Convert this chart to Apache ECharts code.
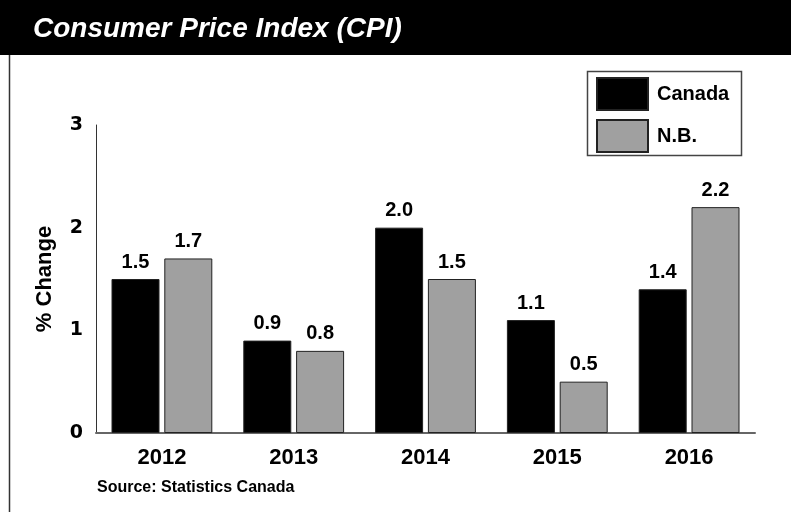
<!DOCTYPE html>
<html>
<head>
<meta charset="utf-8">
<script src="https://cdn.jsdelivr.net/npm/echarts@6/dist/echarts.min.js"></script>
<style>
  html, body { margin: 0; padding: 0; background: #fff; }
  #chart { width: 791px; height: 512px; }
</style>
</head>
<body>
<div id="chart"></div>
<script>
// data
var years = ['2012', '2013', '2014', '2015', '2016'];
var canada = [1.5, 0.9, 2.0, 1.1, 1.4];
var nb = [1.7, 0.8, 1.5, 0.5, 2.2];
var yTicks = [0, 1, 2, 3];

var narrow = '"Liberation Sans Narrow", "Arial Narrow", "Liberation Sans", sans-serif';

var chart = echarts.init(document.getElementById('chart'));

var labelStyle = {
  show: true,
  position: 'top',
  distance: 7,
  color: '#000',
  fontFamily: narrow,
  fontWeight: 'bold',
  fontSize: 20,
  formatter: function (p) { return p.value.toFixed(1); }
};

var option = {
  animation: false,
  backgroundColor: '#fff',
  graphic: [
    // title bar
    { type: 'rect', left: 0, top: 0, shape: { width: 791, height: 55 }, style: { fill: '#000' } },
    { type: 'text', left: 33, top: 15, style: {
        text: 'Consumer Price Index (CPI)', fill: '#fff',
        font: 'italic bold 28px ' + narrow } },
    // left frame line
    { type: 'line', shape: { x1: 9.5, y1: 55, x2: 9.5, y2: 512 }, style: { stroke: '#333', lineWidth: 1.5 } },
    // legend box
    { type: 'rect', shape: { x: 587.5, y: 71.5, width: 154, height: 84 }, style: { fill: 'none', stroke: '#444', lineWidth: 1.5 } },
    // source
    { type: 'text', left: 97, top: 480, style: {
        text: 'Source: Statistics Canada', fill: '#000',
        font: 'bold 16px ' + narrow } }
  ],
  legend: {
    orient: 'vertical',
    left: 596,
    top: 77,
    padding: 0,
    itemWidth: 51,
    itemHeight: 32,
    itemGap: 8,
    icon: 'rect',
    textStyle: { color: '#000', fontFamily: narrow, fontWeight: 'bold', fontSize: 20, padding: [0, 0, 0, 4] },
    data: ['Canada', 'N.B.']
  },
  grid: { left: 96, right: 36, top: 125, bottom: 79, containLabel: false },
  xAxis: {
    type: 'category',
    data: years,
    axisLine: { lineStyle: { color: '#666', width: 2 } },
    axisTick: { show: false },
    axisLabel: { color: '#000', fontFamily: narrow, fontWeight: 'bold', fontSize: 22, margin: 14 }
  },
  yAxis: {
    type: 'value',
    min: yTicks[0],
    max: yTicks[yTicks.length - 1],
    interval: 1,
    name: '% Change',
    nameLocation: 'middle',
    nameGap: 40,
    nameTextStyle: { color: '#000', fontFamily: narrow, fontWeight: 'bold', fontSize: 22 },
    axisLine: { show: true, lineStyle: { color: '#333', width: 1 } },
    axisTick: { show: false },
    splitLine: { show: false },
    axisLabel: { color: '#000', fontFamily: '"DejaVu Sans", sans-serif', fontWeight: 'bold', fontSize: 19, margin: 13, padding: [6, 0, 0, 0] }
  },
  series: [
    {
      name: 'Canada',
      type: 'bar',
      data: canada,
      barWidth: 48,
      barGap: '10%',
      itemStyle: { color: '#000', borderColor: '#222', borderWidth: 1 },
      label: labelStyle
    },
    {
      name: 'N.B.',
      type: 'bar',
      data: nb,
      barWidth: 48,
      itemStyle: { color: '#a0a0a0', borderColor: '#222', borderWidth: 1 },
      label: labelStyle
    }
  ]
};

chart.setOption(option);
</script>
</body>
</html>
